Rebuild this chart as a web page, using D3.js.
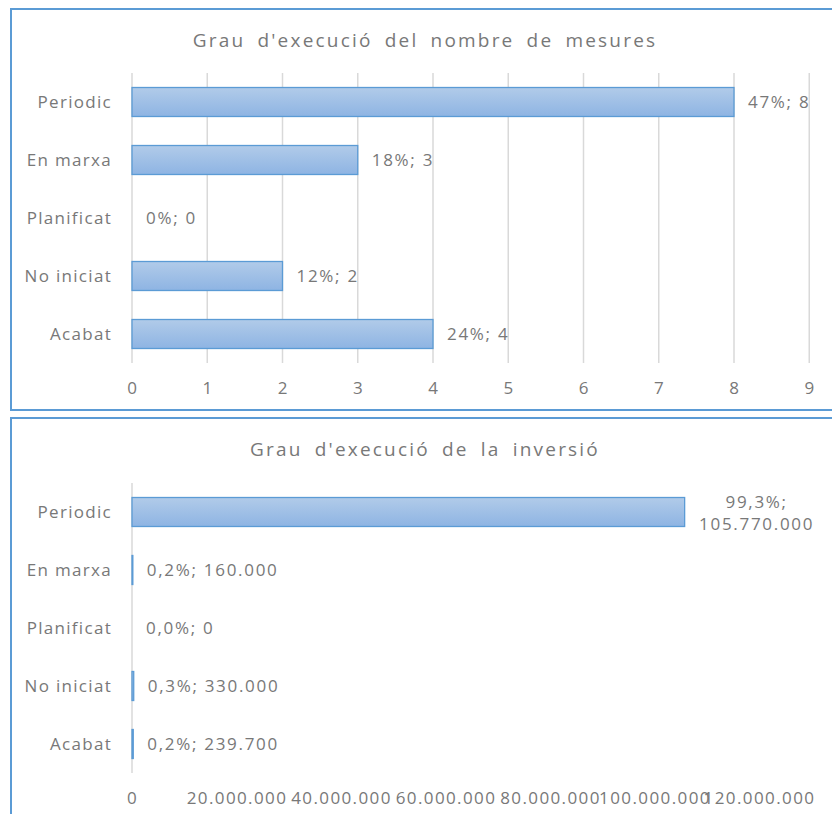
<!DOCTYPE html>
<html lang="ca">
<head>
<meta charset="UTF-8">
<title>Grau d'execució</title>
<script src="https://d3js.org/d3.v7.min.js"></script>
<style>
    body { margin: 0; background: #fff; font-family: "Open Sans", sans-serif; }
    svg text { fill: #787878; }
</style>
</head>
<body>
<div id="chart"></div>
<script>
    // Data
    const categories = ["Periodic", "En marxa", "Planificat", "No iniciat", "Acabat"];
    const countValues = [8, 3, 0, 2, 4];
    const countPct = ["47%", "18%", "0%", "12%", "24%"];
    const countTicks = [0, 1, 2, 3, 4, 5, 6, 7, 8, 9];
    const investValues = [105770000, 160000, 0, 330000, 239700];
    const investPct = ["99,3%", "0,2%", "0,0%", "0,3%", "0,2%"];
    const investTicks = [0, 20000000, 40000000, 60000000, 80000000, 100000000, 120000000];

    const width = 832, height = 814;
    const ca = d3.formatLocale({decimal: ",", thousands: ".", grouping: [3], currency: ["", " €"]});
    const fmt = ca.format(",d");

    const svg = d3.select("#chart").append("svg")
        .attr("width", width)
        .attr("height", height);

    const defs = svg.append("defs");
    const grad = defs.append("linearGradient")
        .attr("id", "barGrad").attr("x1", 0).attr("y1", 0).attr("x2", 0).attr("y2", 1);
    grad.append("stop").attr("offset", "0%").attr("stop-color", "#b1cbe9");
    grad.append("stop").attr("offset", "100%").attr("stop-color", "#8eb4e3");

    function drawChart(opts) {
        const g = svg.append("g");

        // frame
        g.append("rect")
            .attr("x", 11).attr("y", opts.boxTop)
            .attr("width", 840).attr("height", opts.boxH)
            .attr("fill", "none")
            .attr("stroke", "#5b9bd5")
            .attr("stroke-width", 2);

        g.append("text")
            .attr("x", 425).attr("y", opts.boxTop + 38)
            .attr("text-anchor", "middle")
            .style("font-size", "19px")
            .style("letter-spacing", "2.2px")
            .style("word-spacing", "5px")
            .text(opts.title);

        const x = d3.scaleLinear().domain(opts.domain).range([132, opts.xMax]);
        const y = d3.scaleBand().domain(categories)
            .range([opts.top, opts.top + 290])
            .paddingInner(0.5).paddingOuter(0.25);

        // grid
        g.selectAll(".grid").data(opts.grid).join("line")
            .attr("x1", d => x(d)).attr("x2", d => x(d))
            .attr("y1", opts.top).attr("y2", opts.top + 290)
            .attr("stroke", "#d9d9d9")
            .attr("stroke-width", 1.5);

        // x axis labels
        const axis = g.append("g")
            .attr("transform", `translate(0,${opts.top + 290})`)
            .call(d3.axisBottom(x).tickValues(opts.ticks).tickSize(0).tickPadding(opts.tickPad).tickFormat(opts.tickFmt));
        axis.select(".domain").remove();
        axis.selectAll("text")
            .style("font-family", "'Open Sans', sans-serif")
            .style("font-size", "17px")
            .style("letter-spacing", opts.tickSpacing)
            .attr("fill", "#787878");

        // category labels
        g.selectAll(".cat").data(categories).join("text")
            .attr("x", 112)
            .attr("y", d => y(d) + y.bandwidth() / 2 + 6)
            .attr("text-anchor", "end")
            .style("font-size", "17px")
            .style("letter-spacing", "1.3px")
            .text(d => d);

        // bars
        const rows = categories.map((c, i) => ({cat: c, v: opts.values[i], pct: opts.pct[i]}));
        g.selectAll(".bar").data(rows.filter(d => d.v > 0)).join("rect")
            .attr("x", x(0))
            .attr("y", d => y(d.cat))
            .attr("width", d => x(d.v) - x(0))
            .attr("height", y.bandwidth())
            .attr("fill", "url(#barGrad)")
            .attr("stroke", "#5b9bd5")
            .attr("stroke-width", 1.3);

        // data labels
        rows.forEach(d => {
            const cy = y(d.cat) + y.bandwidth() / 2;
            const label = `${d.pct}; ${opts.valFmt(d.v)}`;
            if (opts.wrap && opts.wrap(d)) {
                const t = g.append("text")
                    .attr("text-anchor", "middle")
                    .style("font-size", "17px")
                    .style("letter-spacing", "1.7px");
                t.append("tspan").attr("x", x(d.v) + 72).attr("y", cy - 4).text(`${d.pct};`);
                t.append("tspan").attr("x", x(d.v) + 72).attr("y", cy + 18).text(opts.valFmt(d.v));
            } else {
                g.append("text")
                    .attr("x", x(d.v) + 14)
                    .attr("y", cy + 6)
                    .style("font-size", "17px")
                    .style("letter-spacing", "1.7px")
                    .text(label);
            }
        });
    }

    drawChart({
        title: "Grau d'execució del nombre de mesures",
        boxTop: 9, boxH: 401,
        top: 73,
        domain: [0, 8], xMax: 734,
        values: countValues, pct: countPct,
        ticks: countTicks, grid: countTicks,
        tickFmt: d3.format("d"), tickPad: 19, tickSpacing: "1px",
        valFmt: d => String(d)
    });

    drawChart({
        title: "Grau d'execució de la inversió",
        boxTop: 418, boxH: 420,
        top: 483,
        domain: [0, 120000000], xMax: 759,
        values: investValues, pct: investPct,
        ticks: investTicks, grid: [0],
        tickFmt: d => d === 0 ? "0" : fmt(d), tickPad: 19, tickSpacing: "1.4px",
        valFmt: d => fmt(d),
        wrap: d => d.v > 50000000
    });
</script>
</body>
</html>
